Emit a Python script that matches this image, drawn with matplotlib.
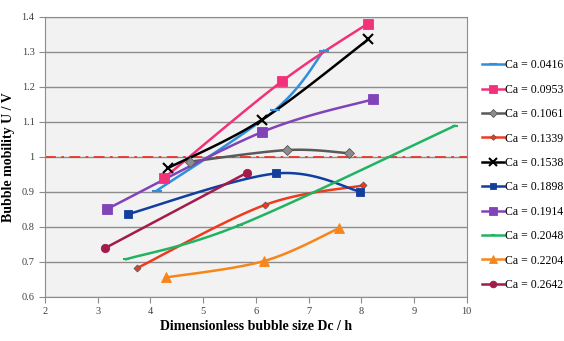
import numpy as np
import matplotlib
matplotlib.use("Agg")
import matplotlib.pyplot as plt

# values
ca_labels = ["0.0416", "0.0953", "0.1061", "0.1339", "0.1538",
             "0.1898", "0.1914", "0.2048", "0.2204", "0.2642"]

x_0416 = [4.12, 6.36, 7.29]
y_0416 = [0.903, 1.133, 1.303]
x_0953 = [4.25, 6.50, 8.12]
y_0953 = [0.938, 1.216, 1.380]
x_1061 = [4.76, 6.60, 7.76]
y_1061 = [0.986, 1.019, 1.010]
x_1339 = [3.74, 6.17, 8.04]
y_1339 = [0.681, 0.862, 0.918]
x_1538 = [4.34, 6.11, 8.13]
y_1538 = [0.968, 1.105, 1.335]
x_1898 = [3.58, 6.38, 7.98]
y_1898 = [0.836, 0.952, 0.900]
x_1914 = [3.17, 6.11, 8.22]
y_1914 = [0.850, 1.070, 1.164]
x_2048 = [3.54, 5.70, 9.77]
y_2048 = [0.707, 0.805, 1.088]
x_2204 = [4.30, 6.16, 7.57]
y_2204 = [0.655, 0.702, 0.795]
x_2642 = [3.13, 5.83]
y_2642 = [0.738, 0.954]

ref_level = 1.0


def smooth(xs, ys, n=30):
    """Catmull-Rom curve through the points, like Excel's smoothed line."""
    p = np.column_stack([xs, ys]).astype(float)
    if len(p) < 3:
        return p[:, 0], p[:, 1]
    pts = np.vstack([p[0], p, p[-1]])
    out = []
    for i in range(1, len(pts) - 2):
        p0, p1, p2, p3 = pts[i - 1], pts[i], pts[i + 1], pts[i + 2]
        t = np.linspace(0, 1, n)[:, None]
        seg = 0.5 * ((2 * p1) + (-p0 + p2) * t
                     + (2 * p0 - 5 * p1 + 4 * p2 - p3) * t ** 2
                     + (-p0 + 3 * p1 - 3 * p2 + p3) * t ** 3)
        out.append(seg)
    out = np.vstack(out)
    return out[:, 0], out[:, 1]


plt.rcParams['font.family'] = ['Liberation Serif', 'DejaVu Serif']

fig = plt.figure(figsize=(5.64, 3.41), dpi=100)
ax = fig.add_axes([0.0798, 0.130, 0.7477, 0.821])
ax.set_facecolor('#F2F2F2')

series = [
    (x_0416, y_0416, '#2E8FDD', '_', 7, '#2E8FDD'),
    (x_0953, y_0953, '#F2317A', 's', 7, '#F2317A'),
    (x_1061, y_1061, '#595959', 'D', 5, '#8C8C8C'),
    (x_1339, y_1339, '#F03A1E', 'D', 3.5, '#F03A1E'),
    (x_1538, y_1538, '#000000', 'x', 7, '#000000'),
    (x_1898, y_1898, '#123E9E', 's', 6, '#123E9E'),
    (x_1914, y_1914, '#8043B8', 's', 7, '#8043B8'),
    (x_2048, y_2048, '#20B462', '_', 4, '#20B462'),
    (x_2204, y_2204, '#F7861A', '^', 7, '#F7861A'),
    (x_2642, y_2642, '#A31A4C', 'o', 6, '#A31A4C'),
]

ax.axhline(ref_level, color='#E8372A', lw=1.3, ls=(0, (6, 3, 1.5, 3)), zorder=2)

for (xs, ys, col, mk, ms, mcol), lab in zip(series, ca_labels):
    sx, sy = smooth(xs, ys)
    ax.plot(sx, sy, color=col, lw=1.8, zorder=3)
    mew = 1.5 if mk in ('_', 'x') else 0.6
    ax.plot(xs, ys, ls='none', marker=mk, ms=ms, color=mcol,
            mec=col if mk != 'D' else '#595959', mew=mew, zorder=4)
    ax.plot([], [], color=col, lw=1.8, marker=mk, ms=ms * 0.8, mfc=mcol,
            mec=col if mk != 'D' else '#595959', mew=mew,
            label='Ca = ' + lab)

ax.set_xlim(2, 10)
ax.set_ylim(0.6, 1.4)
ax.set_xticks(range(2, 11))
ax.set_yticks(np.arange(0.6, 1.41, 0.1))
ax.set_yticklabels(['0.6', '0.7', '0.8', '0.9', '1', '1.1', '1.2', '1.3', '1.4'])
ax.yaxis.grid(True, color='#8C8C8C', lw=1)
ax.set_axisbelow(True)
for s in ax.spines.values():
    s.set_color('#8C8C8C')
ax.tick_params(colors='#8C8C8C', labelcolor='#404040', labelsize=7.5,
               length=4, direction='out')

ax.set_xlabel('Dimensionless bubble size Dc / h', fontsize=10,
              fontweight='bold', labelpad=3)
ax.set_ylabel('Bubble mobility U / V', fontsize=10, fontweight='bold',
              labelpad=5)

fig.legend(loc='upper left', bbox_to_anchor=(0.835, 0.857), frameon=False,
           fontsize=8.5, handlelength=1.9, handletextpad=0.05,
           labelspacing=1.05)

fig.savefig('out.png', dpi=100)
